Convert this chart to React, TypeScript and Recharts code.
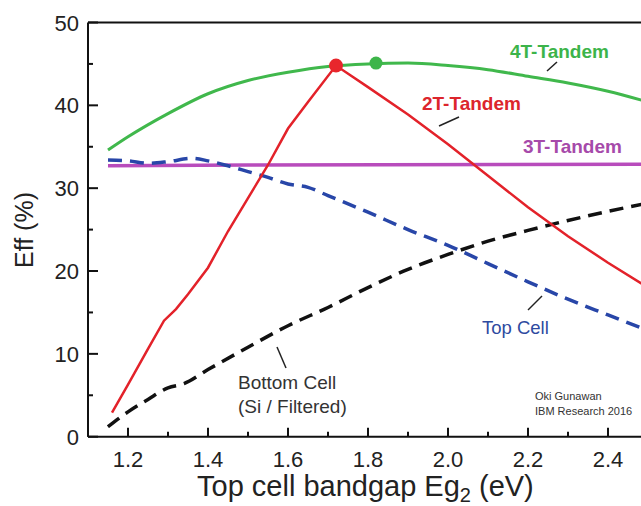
import React from 'react';
import { LineChart, Line, XAxis, YAxis, ReferenceDot } from 'recharts';

// top cell bandgap (eV) / efficiency (%)
const tandem4TX = [1.15, 1.2, 1.3, 1.4, 1.5, 1.6, 1.7, 1.8, 1.9, 2.0, 2.1, 2.2, 2.3, 2.4, 2.5];
const tandem4TY = [34.6, 36.2, 39.0, 41.4, 43.0, 44.0, 44.7, 45.0, 45.1, 44.8, 44.3, 43.5, 42.7, 41.7, 40.4];

const tandem2TX = [1.16, 1.2, 1.25, 1.29, 1.32, 1.35, 1.4, 1.45, 1.5, 1.55, 1.6, 1.65, 1.72, 1.8, 1.9, 2.0, 2.1, 2.2, 2.3, 2.4, 2.5];
const tandem2TY = [2.9, 6.3, 10.6, 14.0, 15.4, 17.2, 20.4, 24.8, 28.8, 32.8, 37.2, 40.4, 44.8, 42.2, 38.9, 35.3, 31.5, 27.7, 24.2, 21.0, 18.0];

const tandem3TX = [1.15, 1.5, 2.5];
const tandem3TY = [32.7, 32.8, 32.9];

const topCellX = [1.15, 1.2, 1.25, 1.3, 1.36, 1.4, 1.45, 1.5, 1.55, 1.6, 1.65, 1.7, 1.8, 1.9, 2.0, 2.1, 2.2, 2.3, 2.4, 2.5];
const topCellY = [33.4, 33.3, 33.0, 33.2, 33.6, 33.3, 32.7, 32.0, 31.3, 30.5, 30.1, 29.1, 27.1, 25.0, 23.1, 20.9, 18.7, 16.6, 14.7, 12.8];

const bottomCellX = [1.15, 1.2, 1.25, 1.3, 1.34, 1.4, 1.5, 1.6, 1.7, 1.8, 1.9, 2.0, 2.1, 2.2, 2.3, 2.4, 2.5];
const bottomCellY = [1.2, 3.0, 4.5, 5.9, 6.4, 8.1, 10.8, 13.4, 15.6, 18.0, 20.2, 22.0, 23.6, 24.9, 26.1, 27.2, 28.2];

const peak2T = { x: 1.72, y: 44.8 };
const peak4T = { x: 1.82, y: 45.1 };

const xTicks = [1.1, 1.2, 1.3, 1.4, 1.5, 1.6, 1.7, 1.8, 1.9, 2.0, 2.1, 2.2, 2.3, 2.4, 2.5];
const yTicks = [0, 5, 10, 15, 20, 25, 30, 35, 40, 45, 50];

const toPoints = (xs: number[], ys: number[]) => xs.map((x, i) => ({ x, y: ys[i] }));

const AXIS = '#111';
const FONT = '"Liberation Sans", Arial, sans-serif';

const xMajor = (v: number) => Math.round(v * 10) % 2 === 0;
const yMajor = (v: number) => v % 10 === 0;

const BottomTick = ({ x, y, payload }: any) => {
  const major = xMajor(payload.value);
  return (
    <g>
      <line x1={x} x2={x} y1={y} y2={y - (major ? 9 : 5)} stroke={AXIS} strokeWidth={2} />
      {major && (
        <text x={x} y={y + 30} textAnchor="middle" fontSize={22} fill="#222">
          {payload.value.toFixed(1)}
        </text>
      )}
    </g>
  );
};

const TopTick = ({ x, y, payload }: any) => (
  <line x1={x} x2={x} y1={y} y2={y + (xMajor(payload.value) ? 9 : 5)} stroke={AXIS} strokeWidth={2} />
);

const LeftTick = ({ x, y, payload }: any) => {
  const major = yMajor(payload.value);
  return (
    <g>
      <line x1={x} x2={x + (major ? 10 : 5)} y1={y} y2={y} stroke={AXIS} strokeWidth={2} />
      {major && (
        <text x={x - 9} y={y + 8} textAnchor="end" fontSize={22} fill="#222">
          {payload.value}
        </text>
      )}
    </g>
  );
};

const RightTick = ({ x, y, payload }: any) => (
  <line x1={x} x2={x - (yMajor(payload.value) ? 10 : 5)} y1={y} y2={y} stroke={AXIS} strokeWidth={2} />
);

export default function App() {
  return (
    <div
      style={{
        position: 'fixed',
        left: 0,
        top: 0,
        width: 641,
        height: 506,
        overflow: 'hidden',
        background: '#fff',
        fontFamily: FONT,
      }}
    >
      <LineChart width={700} height={506} margin={{ top: 2, right: 0, bottom: 0, left: 0 }}>
        <XAxis
          dataKey="x"
          type="number"
          domain={[1.1, 2.5]}
          ticks={xTicks}
          interval={0}
          tickSize={0}
          tickMargin={0}
          tickLine={false}
          tick={<BottomTick />}
          axisLine={{ stroke: AXIS, strokeWidth: 2 }}
          height={69.3}
          allowDataOverflow
        />
        <XAxis
          xAxisId="top"
          orientation="top"
          type="number"
          domain={[1.1, 2.5]}
          ticks={xTicks}
          interval={0}
          tickSize={0}
          tickMargin={0}
          tickLine={false}
          tick={<TopTick />}
          axisLine={{ stroke: AXIS, strokeWidth: 2 }}
          height={20.5}
        />
        <YAxis
          type="number"
          domain={[0, 50]}
          ticks={yTicks}
          interval={0}
          tickSize={0}
          tickMargin={0}
          tickLine={false}
          tick={<LeftTick />}
          axisLine={{ stroke: AXIS, strokeWidth: 2 }}
          width={88}
          allowDataOverflow
        />
        <YAxis
          yAxisId="right"
          orientation="right"
          type="number"
          domain={[0, 50]}
          ticks={yTicks}
          interval={0}
          tickSize={0}
          tickMargin={0}
          tickLine={false}
          tick={<RightTick />}
          axisLine={{ stroke: AXIS, strokeWidth: 2 }}
          width={52}
        />

        <Line data={toPoints(tandem3TX, tandem3TY)} dataKey="y" type="linear" stroke="#b84cbc" strokeWidth={3.5} dot={false} activeDot={false} isAnimationActive={false} />
        <Line data={toPoints(bottomCellX, bottomCellY)} dataKey="y" type="monotone" stroke="#111" strokeWidth={3.5} strokeDasharray="14 8" dot={false} activeDot={false} isAnimationActive={false} />
        <Line data={toPoints(topCellX, topCellY)} dataKey="y" type="monotone" stroke="#2846a8" strokeWidth={3.5} strokeDasharray="14 8" dot={false} activeDot={false} isAnimationActive={false} />
        <Line data={toPoints(tandem4TX, tandem4TY)} dataKey="y" type="monotone" stroke="#40b84c" strokeWidth={3} dot={false} activeDot={false} isAnimationActive={false} />
        <Line data={toPoints(tandem2TX, tandem2TY)} dataKey="y" type="linear" stroke="#e3222a" strokeWidth={2.5} dot={false} activeDot={false} isAnimationActive={false} />

        <ReferenceDot x={peak2T.x} y={peak2T.y} r={7} fill="#e8262c" stroke="none" />
        <ReferenceDot x={peak4T.x} y={peak4T.y} r={6.5} fill="#3db54a" stroke="none" />
      </LineChart>

      <svg
        width={641}
        height={506}
        style={{ position: 'absolute', left: 0, top: 0, pointerEvents: 'none' }}
      >
        <text x={33} y={230} transform="rotate(-90, 33, 230)" textAnchor="middle" fontSize={25} fill="#222">
          Eff (%)
        </text>
        <text x={197} y={496} fontSize={29} fill="#222">
          Top cell bandgap Eg
          <tspan fontSize={20} dy={6}>2</tspan>
          <tspan dy={-6}> (eV)</tspan>
        </text>

        <text x={510} y={58} fontSize={19} fontWeight="bold" fill="#3cb44a">4T-Tandem</text>
        <line x1={547} y1={71} x2={557} y2={62} stroke="#222" strokeWidth={1.5} />

        <text x={422} y={110} fontSize={19} fontWeight="bold" fill="#dc252c">2T-Tandem</text>
        <line x1={439} y1={126} x2={459} y2={117} stroke="#222" strokeWidth={1.5} />

        <text x={523} y={153} fontSize={19} fontWeight="bold" fill="#a64aaa">3T-Tandem</text>

        <text x={482} y={334} fontSize={18.5} fill="#2e4aa0">Top Cell</text>
        <line x1={528} y1={310} x2={542} y2={296} stroke="#222" strokeWidth={1.5} />

        <text x={238} y={389} fontSize={19} fill="#333">Bottom Cell</text>
        <text x={238} y={413} fontSize={19} fill="#333">(Si / Filtered)</text>
        <line x1={277} y1={347} x2={286} y2={368} stroke="#222" strokeWidth={1.5} />

        <text x={535} y={400} fontSize={11} fill="#333">Oki Gunawan</text>
        <text x={535} y={415} fontSize={11} fill="#333">IBM Research 2016</text>
      </svg>
    </div>
  );
}
